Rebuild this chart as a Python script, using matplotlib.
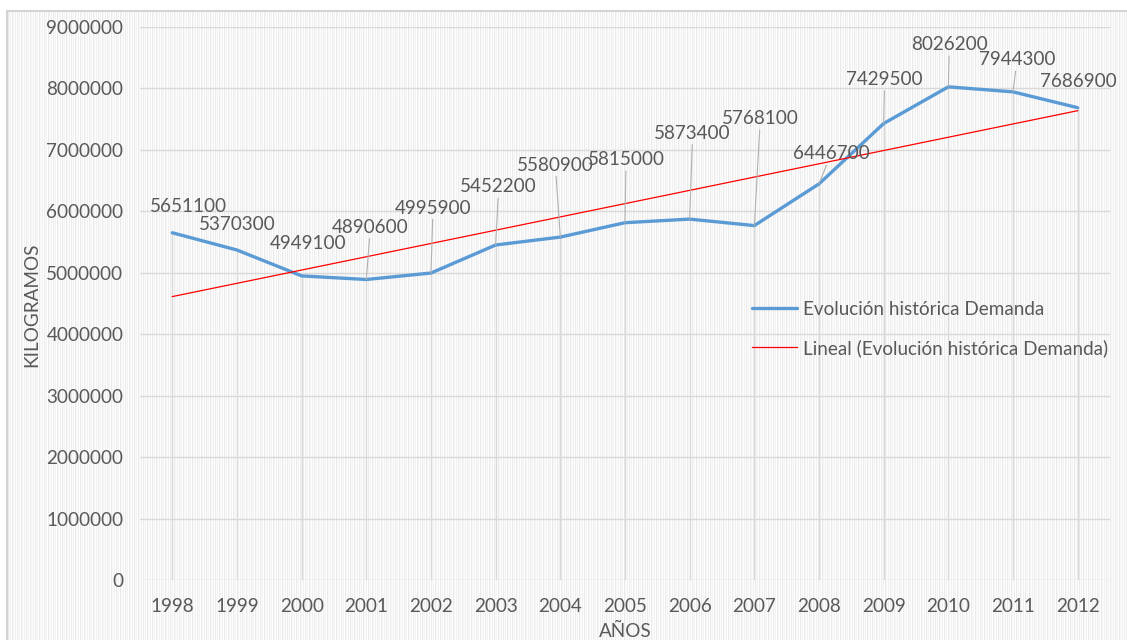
import numpy as np
import matplotlib
matplotlib.use("Agg")
import matplotlib.pyplot as plt
from matplotlib.ticker import FuncFormatter

# ---- data ----
years = ["1998", "1999", "2000", "2001", "2002", "2003", "2004", "2005",
         "2006", "2007", "2008", "2009", "2010", "2011", "2012"]
demand = [5651100, 5370300, 4949100, 4890600, 4995900, 5452200, 5580900, 5815000,
          5873400, 5768100, 6446700, 7429500, 8026200, 7944300, 7686900]
series_name = "Evolución histórica Demanda"
trend_name = "Lineal (Evolución histórica Demanda)"
y_ticks = [0, 1000000, 2000000, 3000000, 4000000, 5000000,
           6000000, 7000000, 8000000, 9000000]

# label offsets (pixels) from each point, and whether a leader line is shown
label_dx = [16, 0, 6, 4, 2, 3, -5, 1, 3, 6, 12, 1, 1, 4, 1]
label_dy = [26, 26, 32, 52, 65, 58, 72, 63, 86, 107, 30, 44, 42, 32, 26]
leader = [False, False, False, True, True, True, True, True, True, True, True, True, True, True, False]

W, H = 1127, 640
plt.rcParams['font.family'] = ['Lato', 'DejaVu Sans']
TXT = '#595959'
GRID = '#d9d9d9'
FS = 13.6

fig = plt.figure(figsize=(W / 100, H / 100), dpi=100)
fig.patch.set_facecolor('white')

# striped chart-area background
bg = fig.add_axes([7 / W, 0, 1 - 7 / W, 1 - 11 / H], zorder=-5)
ncols = W - 7
pattern = np.tile(np.array([255, 236, 249, 243, 255, 234, 247, 252, 240]), ncols // 9 + 1)[:ncols]
img = np.repeat(pattern[None, :], 2, axis=0) / 255.0
bg.imshow(img, cmap='gray', vmin=0, vmax=1, aspect='auto', interpolation='nearest',
          extent=[0, 1, 0, 1])
bg.set_xlim(0, 1)
bg.set_ylim(0, 1)
bg.set_xticks([])
bg.set_yticks([])
for s in ['right', 'bottom']:
    bg.spines[s].set_visible(False)
for s in ['left', 'top']:
    bg.spines[s].set_color('#d4d4d4')
    bg.spines[s].set_linewidth(1.5)

# main plot
ax = fig.add_axes([140 / W, 1 - 580 / H, (1110 - 140) / W, (580 - 27) / H])
ax.set_facecolor('none')
x = np.arange(len(years))
ax.set_xlim(-0.5, len(years) - 0.5)
ax.set_ylim(0, 9000000)
ax.set_yticks(y_ticks)
ax.yaxis.set_major_formatter(FuncFormatter(lambda v, p: f"{int(v)}"))
ax.set_xticks(x)
ax.set_xticklabels(years)
ax.tick_params(axis='both', length=0, labelsize=FS, labelcolor=TXT)
ax.tick_params(axis='y', pad=12)
ax.tick_params(axis='x', pad=13)
for s in ax.spines.values():
    s.set_visible(False)
ax.yaxis.grid(True, color=GRID, linewidth=1.0)
ax.set_axisbelow(True)

# drop lines
ax.vlines(x, 0, demand, colors=GRID, linewidth=1.0, zorder=1)

# trend line (linear fit of the series)
coef = np.polyfit(x, demand, 1)
trend = np.polyval(coef, x)
ax.plot(x, demand, color='#5B9BD5', linewidth=2.4, solid_capstyle='round',
        solid_joinstyle='round', label=series_name, zorder=3)
ax.plot(x, trend, color='#FF0000', linewidth=0.9, label=trend_name, zorder=4)

# data labels
for i, v in enumerate(demand):
    kw = {}
    if leader[i]:
        kw['arrowprops'] = dict(arrowstyle='-', color='#b0b0b0', lw=0.8,
                                shrinkA=0, shrinkB=0)
    ax.annotate(f"{v}", xy=(x[i], v), xytext=(label_dx[i], label_dy[i]),
                textcoords='offset pixels', ha='center', va='center',
                fontsize=FS, color=TXT, zorder=5, **kw)

leg = ax.legend(loc='upper left', bbox_to_anchor=(752 / W, 1 - 301 / H),
                bbox_transform=fig.transFigure, frameon=False, fontsize=FS,
                handlelength=2.4, handletextpad=0.3, labelspacing=1.12,
                borderpad=0, borderaxespad=0)
for t in leg.get_texts():
    t.set_color(TXT)

fig.text(32 / W, 1 - 305 / H, "KILOGRAMOS", rotation=90, ha='center', va='center',
         fontsize=FS, color=TXT)
fig.text(625 / W, 1 - 631 / H, "AÑOS", ha='center', va='center',
         fontsize=FS, color=TXT)

fig.savefig("out.png", dpi=100)
